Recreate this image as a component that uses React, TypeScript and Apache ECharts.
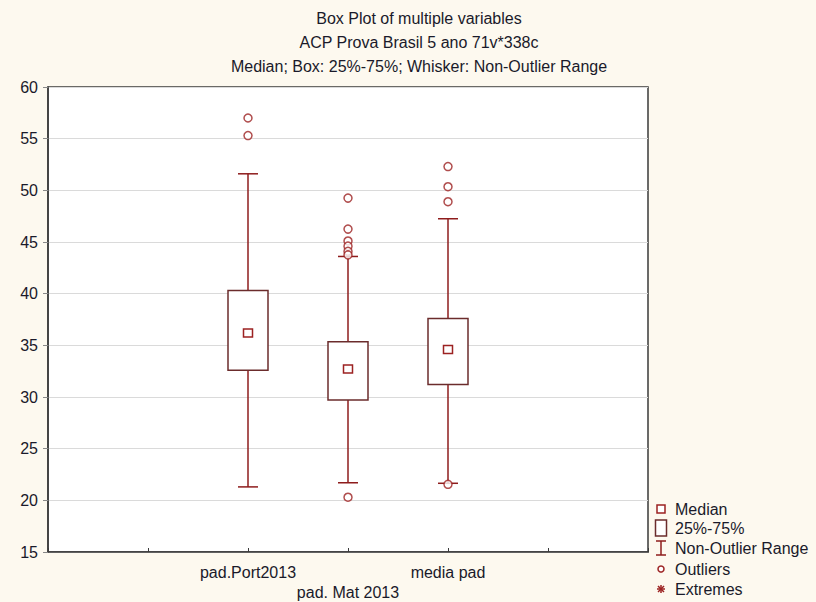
import React, { useEffect, useRef } from "react";
import * as echarts from "echarts";

const titleLines = [
  "Box Plot of multiple variables",
  "ACP Prova Brasil 5 ano 71v*338c",
  "Median; Box: 25%-75%; Whisker: Non-Outlier Range",
];
const categories = ["pad.Port2013", "pad. Mat 2013", "media pad"];
const categoryPositions = [2, 3, 4];
// [low whisker, Q1, median, Q3, high whisker]
const boxStats = [
  [21.3, 32.6, 36.2, 40.3, 51.6],
  [21.7, 29.7, 32.7, 35.35, 43.6],
  [21.65, 31.2, 34.6, 37.6, 47.25],
];
const outliers = [
  [57.0, 55.3],
  [49.25, 46.25, 45.1, 44.6, 44.1, 43.75, 20.3],
  [52.3, 50.35, 48.9, 21.55],
];
const legendItems = ["Median", "25%-75%", "Non-Outlier Range", "Outliers", "Extremes"];

const WHISKER = "#8e1c1c";
const BOXC = "#6b2c2c";
const MED = "#9c2222";
const FONT = "'Liberation Sans', Arial, sans-serif";

export default function App() {
  const ref = useRef<HTMLDivElement>(null);
  useEffect(() => {
    document.body.style.margin = "0";
    const chart = echarts.init(ref.current!, null, { renderer: "svg" });
    const boxData = boxStats.map((s, i) => [categoryPositions[i], ...s]);
    const outData: number[][] = [];
    outliers.forEach((arr, i) => arr.forEach((v) => outData.push([categoryPositions[i], v])));

    const legX = 661;
    const legY = [509, 528, 548, 569, 589];
    const legendGraphics: any[] = [
      { type: "rect", shape: { x: legX - 4, y: legY[0] - 4, width: 8, height: 8 }, style: { fill: "#fff", stroke: MED, lineWidth: 1.5 } },
      { type: "rect", shape: { x: legX - 5.5, y: legY[1] - 8, width: 11, height: 16 }, style: { fill: "#fff", stroke: BOXC, lineWidth: 1.5 } },
      { type: "line", shape: { x1: legX, y1: legY[2] - 7, x2: legX, y2: legY[2] + 7 }, style: { stroke: WHISKER, lineWidth: 1.5 } },
      { type: "line", shape: { x1: legX - 5, y1: legY[2] - 7, x2: legX + 5, y2: legY[2] - 7 }, style: { stroke: WHISKER, lineWidth: 1.5 } },
      { type: "line", shape: { x1: legX - 5, y1: legY[2] + 7, x2: legX + 5, y2: legY[2] + 7 }, style: { stroke: WHISKER, lineWidth: 1.5 } },
      { type: "circle", shape: { cx: legX, cy: legY[3], r: 3 }, style: { fill: "#fff", stroke: MED, lineWidth: 1.5 } },
      { type: "line", shape: { x1: legX - 4, y1: legY[4], x2: legX + 4, y2: legY[4] }, style: { stroke: MED, lineWidth: 1.5 } },
      { type: "line", shape: { x1: legX, y1: legY[4] - 4, x2: legX, y2: legY[4] + 4 }, style: { stroke: MED, lineWidth: 1.5 } },
      { type: "line", shape: { x1: legX - 3, y1: legY[4] - 3, x2: legX + 3, y2: legY[4] + 3 }, style: { stroke: MED, lineWidth: 1.5 } },
      { type: "line", shape: { x1: legX - 3, y1: legY[4] + 3, x2: legX + 3, y2: legY[4] - 3 }, style: { stroke: MED, lineWidth: 1.5 } },
    ];
    legendItems.forEach((t, i) => {
      legendGraphics.push({
        type: "text",
        x: 675,
        y: legY[i],
        style: { text: t, fill: "#1a1a2a", font: "16px " + FONT, textVerticalAlign: "middle" },
      });
    });
    titleLines.forEach((t, i) => {
      legendGraphics.push({
        type: "text",
        x: 419,
        y: 18 + i * 24,
        style: { text: t, fill: "#1a1a2a", font: "16px " + FONT, textAlign: "center", textVerticalAlign: "middle" },
      });
    });

    chart.setOption({
      animation: false,
      backgroundColor: "#fdf9ef",
      grid: { left: 48, top: 87, width: 600, height: 466, show: true, backgroundColor: "#ffffff", borderColor: "#3a3a3a", borderWidth: 1.5 },
      xAxis: {
        type: "value",
        min: 0,
        max: 6,
        interval: 1,
        axisLine: { show: true, lineStyle: { color: "#3a3a3a", width: 1.5 } },
        axisTick: { show: true, inside: true, length: 4, lineStyle: { color: "#3a3a3a" } },
        splitLine: { show: false },
        axisLabel: {
          margin: 10,
          fontSize: 16,
          fontFamily: FONT,
          color: "#1a1a2a",
          lineHeight: 20,
          formatter: (v: number) => {
            const idx = categoryPositions.indexOf(v);
            if (idx < 0) return "";
            return idx === 1 ? "\n" + categories[idx] : categories[idx];
          },
        },
      },
      yAxis: {
        type: "value",
        min: 15,
        max: 60,
        interval: 5,
        axisLine: { show: true, lineStyle: { color: "#3a3a3a", width: 1.5 } },
        axisTick: { show: true, length: 5, lineStyle: { color: "#888" } },
        splitLine: { show: true, lineStyle: { color: "#dadada", width: 1 } },
        axisLabel: { margin: 10, fontSize: 16, fontFamily: FONT, color: "#1a1a2a" },
      },
      graphic: legendGraphics,
      series: [
        {
          type: "custom",
          data: boxData,
          renderItem: (params: any, api: any) => {
            const x = api.value(0);
            const lo = api.coord([x, api.value(1)]);
            const q1 = api.coord([x, api.value(2)]);
            const md = api.coord([x, api.value(3)]);
            const q3 = api.coord([x, api.value(4)]);
            const hi = api.coord([x, api.value(5)]);
            const bw = api.size([0.4, 0])[0];
            const cw = bw / 2;
            const cx = lo[0];
            const ws = { stroke: WHISKER, lineWidth: 1.5 };
            return {
              type: "group",
              children: [
                { type: "line", shape: { x1: cx, y1: lo[1], x2: cx, y2: q1[1] }, style: ws },
                { type: "line", shape: { x1: cx, y1: q3[1], x2: cx, y2: hi[1] }, style: ws },
                { type: "line", shape: { x1: cx - cw / 2, y1: lo[1], x2: cx + cw / 2, y2: lo[1] }, style: ws },
                { type: "line", shape: { x1: cx - cw / 2, y1: hi[1], x2: cx + cw / 2, y2: hi[1] }, style: ws },
                { type: "rect", shape: { x: cx - bw / 2, y: q3[1], width: bw, height: q1[1] - q3[1] }, style: { fill: "#fff", stroke: BOXC, lineWidth: 1.5 } },
                { type: "rect", shape: { x: cx - 4.5, y: md[1] - 4, width: 9, height: 8 }, style: { fill: "#fff", stroke: MED, lineWidth: 1.5 } },
              ],
            };
          },
          z: 2,
        },
        {
          type: "scatter",
          data: outData,
          symbol: "circle",
          symbolSize: 8,
          itemStyle: { color: "#fff", borderColor: MED, borderWidth: 1.5 },
          z: 3,
        },
      ],
    });
    return () => chart.dispose();
  }, []);
  return <div ref={ref} style={{ width: 816, height: 602 }} />;
}
